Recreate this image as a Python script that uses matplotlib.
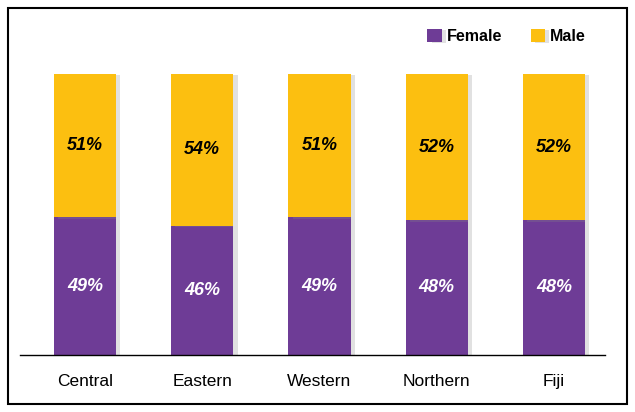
import matplotlib.pyplot as plt
import matplotlib.patheffects as pe
from matplotlib.patches import Rectangle

regions = ["Central", "Eastern", "Western", "Northern", "Fiji"]
female = [49, 46, 49, 48, 48]
male = [51, 54, 51, 52, 52]

purple = "#6E3C96"
yellow = "#FCBF10"

plt.rcParams['font.family'] = ['Liberation Sans', 'DejaVu Sans']

fig = plt.figure(figsize=(6.35, 4.12), dpi=100)
ax = fig.add_axes([0.0315, 0.1383, 0.9215, 0.6821])

x = range(len(regions))
shadow = [pe.SimplePatchShadow(offset=(3, -1), shadow_rgbFace='#888888', alpha=0.25), pe.Normal()]
b1 = ax.bar(x, female, width=0.53, color=purple, label="Female", path_effects=shadow)
b2 = ax.bar(x, male, width=0.53, bottom=female, color=yellow, label="Male", path_effects=shadow)

for i in x:
    ax.text(i, female[i] / 2, f"{female[i]}%", ha='center', va='center',
            color='white', fontsize=13, fontweight='bold', style='italic')
    ax.text(i, female[i] + male[i] / 2, f"{male[i]}%", ha='center', va='center',
            color='black', fontsize=13, fontweight='bold', style='italic')

ax.set_xlim(-0.555, 4.437)
ax.set_ylim(0, 100)
ax.set_xticks(list(x))
ax.set_xticklabels(regions, fontsize=12.5)
ax.tick_params(axis='x', length=0, pad=14)
ax.set_yticks([])
for s in ['top', 'right', 'left']:
    ax.spines[s].set_visible(False)
ax.spines['bottom'].set_linewidth(1.0)

fig.legend(handles=[b1, b2], loc='upper right', bbox_to_anchor=(0.945, 0.965),
           ncol=2, frameon=False, prop={'weight': 'bold', 'size': 11.5},
           handlelength=0.9, handleheight=0.9, handletextpad=0.3, columnspacing=1.8)

fig.patches.append(Rectangle((8 / 635, 8 / 412), 619 / 635, 396 / 412, transform=fig.transFigure,
                             fill=False, edgecolor='black', linewidth=1.5))

fig.savefig("out.png", dpi=100)
